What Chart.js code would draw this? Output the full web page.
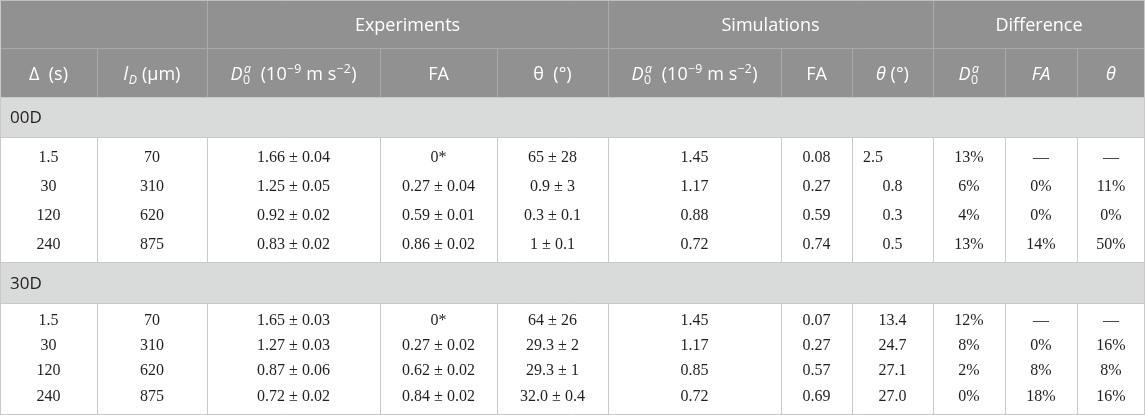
<!DOCTYPE html>
<html>
<head>
<meta charset="utf-8">
<script src="https://cdn.jsdelivr.net/npm/chart.js@4.4.0/dist/chart.umd.min.js"></script>
<style>
  html, body { margin: 0; padding: 0; background: #ffffff; }
  #wrap { width: 1145px; height: 415px; position: relative; }
</style>
</head>
<body>
<div id="wrap"><canvas id="c"></canvas></div>
<script>
// ---------- DATA ----------
const groupHeaders = ['Experiments', 'Simulations', 'Difference'];
const groups = ['00D', '30D'];
const deltaS = ['1.5', '30', '120', '240'];
const lD = ['70', '310', '620', '875'];

const exp00D0 = ['1.66 ± 0.04', '1.25 ± 0.05', '0.92 ± 0.02', '0.83 ± 0.02'];
const exp00FA = ['0*', '0.27 ± 0.04', '0.59 ± 0.01', '0.86 ± 0.02'];
const exp00Theta = ['65 ± 28', '0.9 ± 3', '0.3 ± 0.1', '1 ± 0.1'];
const sim00D0 = ['1.45', '1.17', '0.88', '0.72'];
const sim00FA = ['0.08', '0.27', '0.59', '0.74'];
const sim00Theta = ['2.5', '0.8', '0.3', '0.5'];
const diff00D0 = ['13%', '6%', '4%', '13%'];
const diff00FA = ['—', '0%', '0%', '14%'];
const diff00Theta = ['—', '11%', '0%', '50%'];

const exp30D0 = ['1.65 ± 0.03', '1.27 ± 0.03', '0.87 ± 0.06', '0.72 ± 0.02'];
const exp30FA = ['0*', '0.27 ± 0.02', '0.62 ± 0.02', '0.84 ± 0.02'];
const exp30Theta = ['64 ± 26', '29.3 ± 2', '29.3 ± 1', '32.0 ± 0.4'];
const sim30D0 = ['1.45', '1.17', '0.85', '0.72'];
const sim30FA = ['0.07', '0.27', '0.57', '0.69'];
const sim30Theta = ['13.4', '24.7', '27.1', '27.0'];
const diff30D0 = ['12%', '8%', '2%', '0%'];
const diff30FA = ['—', '0%', '8%', '18%'];
const diff30Theta = ['—', '16%', '8%', '16%'];

// ---------- LAYOUT (scale units) ----------
const colEdges = [0, 97, 207, 380, 497, 608, 781, 852, 933, 1005, 1077, 1145];
const spanEdges = [[2, 5], [5, 8], [8, 11]]; // column index ranges for group headers
const header1 = [0, 48];
const header2 = [48, 97];
const blocks = [
  { group: [97, 137], body: [137, 262], lines: [156, 185, 214, 243] },
  { group: [262, 303], body: [303, 414], lines: [319, 344, 369, 395] }
];
// special cell alignment quirk: first simulation θ of 00D is left aligned
const leftAligned = [[0, 7, 0]];

const blockColumns = [
  [deltaS, lD, exp00D0, exp00FA, exp00Theta, sim00D0, sim00FA, sim00Theta, diff00D0, diff00FA, diff00Theta],
  [deltaS, lD, exp30D0, exp30FA, exp30Theta, sim30D0, sim30FA, sim30Theta, diff30D0, diff30FA, diff30Theta]
];

const D0 = [{ t: 'D', i: 1 }, { stack: ['a', '0'] }];
const D0unit = D0.concat([{ t: '  (10' }, { sup: '−9' }, { t: ' m s' }, { sup: '−2' }, { t: ')' }]);
const colHeaders = [
  [{ t: 'Δ  (s)' }],
  [{ t: 'l', i: 1 }, { sub: 'D', i: 1 }, { t: ' (µm)' }],
  D0unit,
  [{ t: 'FA' }],
  [{ t: 'θ  (°)' }],
  D0unit,
  [{ t: 'FA' }],
  [{ t: 'θ', i: 1 }, { t: ' (°)' }],
  D0,
  [{ t: 'FA', i: 1 }],
  [{ t: 'θ', i: 1 }]
];

// ---------- STYLE ----------
const SANS = '"Open Sans", "Noto Sans", sans-serif';
const SERIF = '"Liberation Serif", "DejaVu Serif", serif';
const headerBg = '#919191';
const headerLine = '#a9a9a9';
const groupBg = '#d9dbda';
const bodyLine = '#c9c9c9';
const textDark = '#231f20';
const HSIZE = 18;

function font(size, italic, fam) { return (italic ? 'italic ' : '') + size + 'px ' + fam; }

function richWidth(ctx, segs, size, fam) {
  let w = 0;
  segs.forEach(s => {
    if (s.t !== undefined) { ctx.font = font(size, s.i, fam); w += ctx.measureText(s.t).width; }
    else if (s.sup !== undefined) { ctx.font = font(size * 0.68, s.i, fam); w += ctx.measureText(s.sup).width + 1; }
    else if (s.sub !== undefined) { ctx.font = font(size * 0.68, s.i, fam); w += ctx.measureText(s.sub).width + 1; }
    else if (s.stack) {
      ctx.font = font(size * 0.68, 1, fam); const a = ctx.measureText(s.stack[0]).width;
      ctx.font = font(size * 0.68, 0, fam); const b = ctx.measureText(s.stack[1]).width;
      w += Math.max(a, b) + 2;
    }
  });
  return w;
}

function drawRich(ctx, segs, x, cy, size, fam, color, align) {
  const w = richWidth(ctx, segs, size, fam);
  let cx = align === 'left' ? x : x - w / 2;
  const base = cy + size * 0.36;
  ctx.fillStyle = color;
  ctx.textAlign = 'left';
  ctx.textBaseline = 'alphabetic';
  segs.forEach(s => {
    if (s.t !== undefined) {
      ctx.font = font(size, s.i, fam); ctx.fillText(s.t, cx, base); cx += ctx.measureText(s.t).width;
    } else if (s.sup !== undefined) {
      ctx.font = font(size * 0.68, s.i, fam); ctx.fillText(s.sup, cx + 0.5, base - size * 0.38); cx += ctx.measureText(s.sup).width + 1;
    } else if (s.sub !== undefined) {
      ctx.font = font(size * 0.68, s.i, fam); ctx.fillText(s.sub, cx + 0.5, base + size * 0.22); cx += ctx.measureText(s.sub).width + 1;
    } else if (s.stack) {
      ctx.font = font(size * 0.68, 1, fam); const a = ctx.measureText(s.stack[0]).width;
      ctx.fillText(s.stack[0], cx + 1.5, base - size * 0.4);
      ctx.font = font(size * 0.68, 0, fam); const b = ctx.measureText(s.stack[1]).width;
      ctx.fillText(s.stack[1], cx + 0.5, base + size * 0.25);
      cx += Math.max(a, b) + 2;
    }
  });
}

const tablePlugin = {
  id: 'tablePlugin',
  afterDraw(chart) {
    const ctx = chart.ctx;
    const X = v => chart.scales.x.getPixelForValue(v);
    const Y = v => chart.scales.y.getPixelForValue(v);
    const left = X(colEdges[0]), right = X(colEdges[colEdges.length - 1]);
    ctx.save();

    function hline(y, x0, x1, c) { ctx.strokeStyle = c; ctx.lineWidth = 1; ctx.beginPath(); ctx.moveTo(x0, Math.round(y) + 0.5); ctx.lineTo(x1, Math.round(y) + 0.5); ctx.stroke(); }
    function vline(x, y0, y1, c) { ctx.strokeStyle = c; ctx.lineWidth = 1; ctx.beginPath(); ctx.moveTo(Math.round(x) + 0.5, y0); ctx.lineTo(Math.round(x) + 0.5, y1); ctx.stroke(); }

    // header background
    ctx.fillStyle = headerBg;
    ctx.fillRect(left, Y(header1[0]), right - left, Y(header2[1]) - Y(header1[0]));
    // header lines
    hline(Y(header1[1]), left, right, headerLine);
    spanEdges.forEach(se => vline(X(colEdges[se[0]]), Y(header1[0]), Y(header1[1]), headerLine));
    for (let i = 1; i < colEdges.length - 1; i++) vline(X(colEdges[i]), Y(header2[0]), Y(header2[1]), headerLine);

    // group header texts
    spanEdges.forEach((se, k) => {
      const cx = (X(colEdges[se[0]]) + X(colEdges[se[1]])) / 2;
      drawRich(ctx, [{ t: groupHeaders[k] }], cx, (Y(header1[0]) + Y(header1[1])) / 2 + 1, HSIZE, SANS, '#ffffff');
    });
    // column header texts
    colHeaders.forEach((segs, i) => {
      const cx = (X(colEdges[i]) + X(colEdges[i + 1])) / 2;
      drawRich(ctx, segs, cx, (Y(header2[0]) + Y(header2[1])) / 2 + 1, HSIZE, SANS, '#ffffff');
    });

    // blocks
    blocks.forEach((b, bi) => {
      ctx.fillStyle = groupBg;
      ctx.fillRect(left, Y(b.group[0]), right - left, Y(b.group[1]) - Y(b.group[0]));
      hline(Y(b.group[0]), left, right, bodyLine);
      hline(Y(b.group[1]), left, right, bodyLine);
      drawRich(ctx, [{ t: groups[bi] }], left + 10, (Y(b.group[0]) + Y(b.group[1])) / 2, 17, SANS, textDark, 'left');
      for (let i = 1; i < colEdges.length - 1; i++) vline(X(colEdges[i]), Y(b.body[0]), Y(b.body[1]), bodyLine);
      blockColumns[bi].forEach((col, ci) => {
        col.forEach((val, ri) => {
          const isLeft = leftAligned.some(q => q[0] === bi && q[1] === ci && q[2] === ri);
          const x = isLeft ? X(colEdges[ci]) + 11 : (X(colEdges[ci]) + X(colEdges[ci + 1])) / 2;
          drawRich(ctx, [{ t: val }], x, Y(b.lines[ri]), 16, SERIF, textDark, isLeft ? 'left' : 'center');
        });
      });
    });
    // outer border
    const bottom = Y(blocks[1].body[1]);
    hline(bottom, left, right, bodyLine);
    vline(left, Y(header1[0]), bottom, bodyLine);
    vline(right - 1, Y(header1[0]), bottom, bodyLine);
    hline(Y(header1[0]), left, right, '#c0c0c0');
    ctx.restore();
  }
};

new Chart(document.getElementById('c'), {
  type: 'scatter',
  data: { datasets: [{ data: [], pointRadius: 0 }] },
  options: {
    responsive: true,
    maintainAspectRatio: false,
    animation: false,
    layout: { padding: 0 },
    plugins: { legend: { display: false }, tooltip: { enabled: false } },
    scales: {
      x: { type: 'linear', min: 0, max: 1145, display: false },
      y: { type: 'linear', min: 0, max: 415, reverse: true, display: false }
    }
  },
  plugins: [tablePlugin]
});
</script>
</body>
</html>
